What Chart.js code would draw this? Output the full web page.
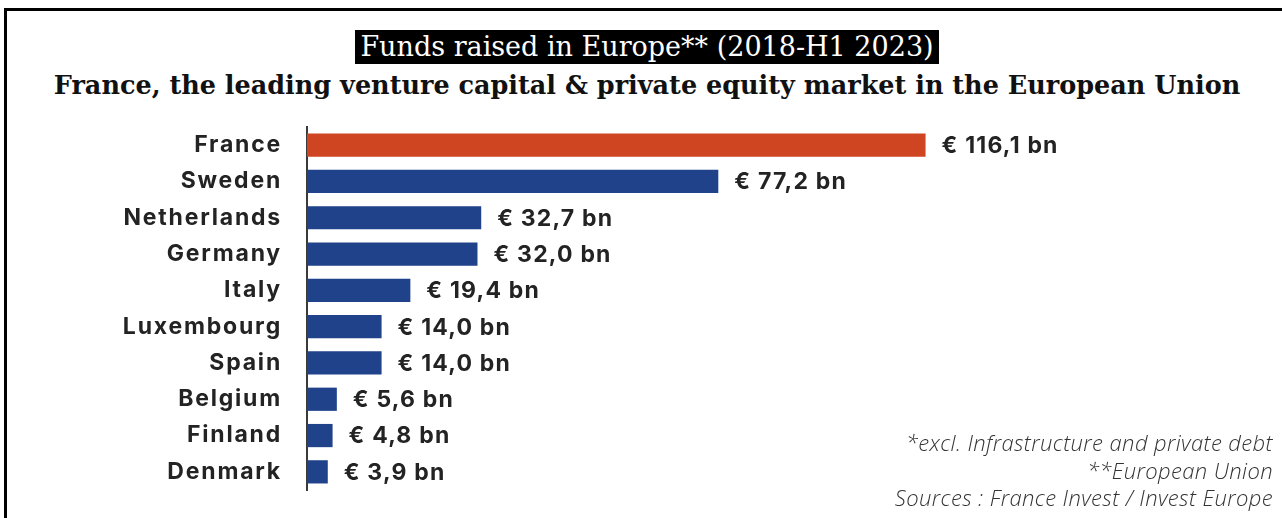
<!DOCTYPE html>
<html>
<head>
<meta charset="utf-8">
<script src="https://cdn.jsdelivr.net/npm/chart.js@4.4.0/dist/chart.umd.min.js"></script>
<style>
  html, body { margin: 0; padding: 0; background: #fff; }
  #wrap { position: relative; width: 1282px; height: 518px; overflow: hidden; }
  #frame { position: absolute; left: 4px; top: 8px; right: -10px; bottom: -10px; border-top: 3px solid #000; border-left: 3px solid #000; }
  #title { position: absolute; top: 30px; left: 0; width: 1294px; text-align: center; }
  #title span { background: #000; color: #fff; font-family: "DejaVu Serif", serif; font-size: 27px; padding: 0 5px; line-height: 34px; display: inline-block; }
  #subtitle { position: absolute; top: 70px; left: 0; width: 1294px; text-align: center; font-family: "DejaVu Serif", serif; font-weight: bold; font-size: 25.5px; color: #111; }
  #notes { position: absolute; right: 9px; top: 429px; text-align: right; font-family: "Open Sans", sans-serif; font-style: italic; font-weight: 300; font-size: 22px; letter-spacing: 0.4px; line-height: 27.5px; color: #333; }
  canvas { position: absolute; left: 0; top: 0; }
</style>
</head>
<body>
<div id="wrap">
  <div id="frame"></div>
  <div id="title"><span>Funds raised in Europe** (2018-H1 2023)</span></div>
  <div id="subtitle">France, the leading venture capital &amp; private equity market in the European Union</div>
  <canvas id="chart" width="1282" height="518"></canvas>
  <div id="notes">*excl. Infrastructure and private debt<br>**European Union<br>Sources : France Invest / Invest Europe</div>
</div>
<script>
const countries = ["France", "Sweden", "Netherlands", "Germany", "Italy", "Luxembourg", "Spain", "Belgium", "Finland", "Denmark"];
const fundsRaised = [116.1, 77.2, 32.7, 32.0, 19.4, 14.0, 14.0, 5.6, 4.8, 3.9];

const ORANGE = "#cf4521";
const BLUE = "#1f428a";
const TEXT = "#232323";
const labelFont = { family: "Inter, sans-serif", size: 23, weight: "700" };

function fmtBn(v) {
  return "€ " + v.toFixed(1).replace(".", ",") + " bn";
}

// a touch of tracking on the country labels
const tracking = {
  id: "tracking",
  beforeDraw(chart) { chart.ctx.letterSpacing = "1.8px"; },
  afterDraw(chart) { chart.ctx.letterSpacing = "0px"; }
};

// writes "€ x,y bn" just past the end of each bar
const valueLabels = {
  id: "valueLabels",
  afterDatasetsDraw(chart) {
    const { ctx } = chart;
    const meta = chart.getDatasetMeta(0);
    ctx.save();
    ctx.letterSpacing = "1.2px";
    ctx.font = `${labelFont.weight} ${labelFont.size}px ${labelFont.family}`;
    ctx.fillStyle = TEXT;
    ctx.textAlign = "left";
    ctx.textBaseline = "middle";
    meta.data.forEach((bar, i) => {
      ctx.fillText(fmtBn(fundsRaised[i]), bar.x + 16, bar.y + 1);
    });
    ctx.restore();
  }
};

new Chart(document.getElementById("chart"), {
  type: "bar",
  data: {
    labels: countries,
    datasets: [{
      data: fundsRaised,
      backgroundColor: countries.map((c) => (c === "France" ? ORANGE : BLUE)),
      borderWidth: 0,
      barPercentage: 0.64,
      categoryPercentage: 1
    }]
  },
  options: {
    indexAxis: "y",
    responsive: false,
    animation: false,
    layout: { padding: { top: 127, bottom: 28, right: 16, left: 0 } },
    plugins: { legend: { display: false }, tooltip: { enabled: false } },
    scales: {
      x: { display: false, min: 0, max: 180 },
      y: {
        grid: { display: false, drawTicks: false },
        border: { display: true, color: "#3a3a3a", width: 2 },
        ticks: { color: TEXT, font: labelFont, padding: 25 },
        afterFit(scale) {
          scale.width = 307;
          scale.paddingTop = 0;
          scale.paddingBottom = 0;
        }
      }
    }
  },
  plugins: [tracking, valueLabels]
});
</script>
</body>
</html>
